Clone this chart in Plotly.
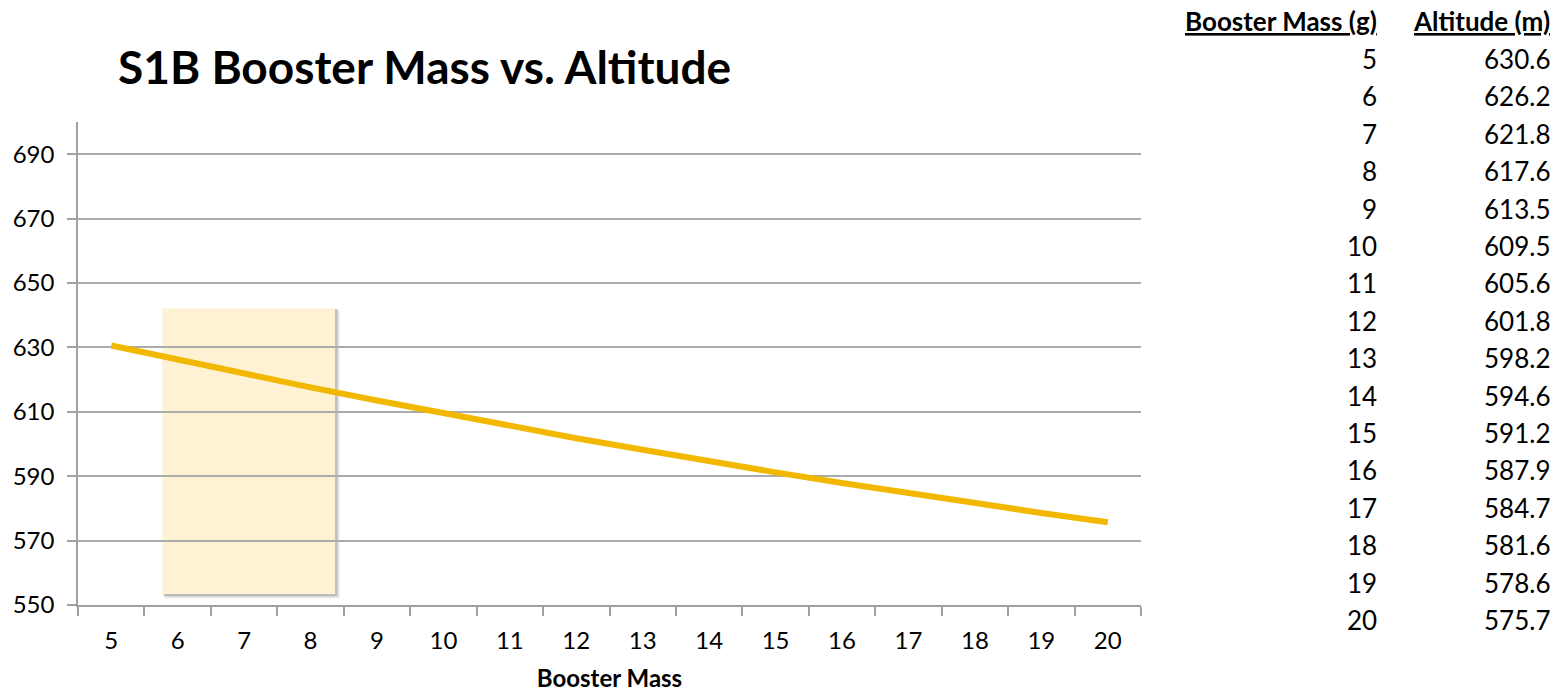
import plotly.graph_objects as go

# Booster mass (g) and predicted altitude (m)
booster_mass = [5, 6, 7, 8, 9, 10, 11, 12, 13, 14, 15, 16, 17, 18, 19, 20]
altitude = [630.6, 626.2, 621.8, 617.6, 613.5, 609.5, 605.6, 601.8,
            598.2, 594.6, 591.2, 587.9, 584.7, 581.6, 578.6, 575.7]
y_ticks = [550, 570, 590, 610, 630, 650, 670, 690]

W, H = 1564, 692
L, R, T, B = 78, 1141, 122, 605
FONT = "Lato"

fig = go.Figure()
fig.add_trace(go.Scatter(
    x=[str(m) for m in booster_mass], y=altitude, mode="lines",
    line=dict(color="#F2B800", width=6), hoverinfo="skip", showlegend=False,
))

# highlighted band with a soft drop shadow
band_x0, band_x1, band_y0, band_y1 = 0.77, 3.37, 553.4, 642.1
for dx, dy, col in [(0.07, -1.4, "rgba(0,0,0,0.06)"), (0.05, -1.0, "rgba(0,0,0,0.10)"),
                    (0.03, -0.6, "rgba(0,0,0,0.12)")]:
    fig.add_shape(type="rect", xref="x", yref="y", layer="below",
                  x0=band_x0 + dx * 0.5, x1=band_x1 + dx, y0=band_y0 + dy, y1=band_y1 + dy * 0.3,
                  fillcolor=col, line_width=0)
fig.add_shape(type="rect", xref="x", yref="y", layer="below",
              x0=band_x0, x1=band_x1, y0=band_y0, y1=band_y1,
              fillcolor="#FEF1D4", line_width=0)

def px_x(p):
    return (p - L) / (R - L)

def px_y(p):
    return (B - p) / (B - T)

# data table to the right of the chart
ann = []
ann.append(dict(text="<b><u>Booster Mass (g)</u></b>", x=px_x(1379), y=px_y(21),
                xanchor="right", yanchor="middle"))
ann.append(dict(text="<b><u>Altitude (m)</u></b>", x=px_x(1552), y=px_y(21),
                xanchor="right", yanchor="middle"))
row0, row_step = 59, (620 - 59) / 15
for i, (m, a) in enumerate(zip(booster_mass, altitude)):
    yy = px_y(row0 + i * row_step)
    ann.append(dict(text=str(m), x=px_x(1379), y=yy, xanchor="right", yanchor="middle"))
    ann.append(dict(text=f"{a:.1f}", x=px_x(1552), y=yy, xanchor="right", yanchor="middle"))
for a in ann:
    a.update(xref="paper", yref="paper", showarrow=False,
             font=dict(family=FONT, size=26, color="#000000"))

fig.update_layout(
    width=W, height=H,
    margin=dict(l=L, r=W - R, t=T, b=H - B, pad=0, autoexpand=False),
    paper_bgcolor="white", plot_bgcolor="white",
    title=dict(text="<b>S1B Booster Mass vs. Altitude</b>", xref="container", yref="container",
               x=118 / W, xanchor="left", y=1 - 68 / H, yanchor="middle",
               font=dict(family=FONT, size=46, color="#000000")),
    font=dict(family=FONT, color="#000000"),
    annotations=ann,
    xaxis=dict(
        type="category", showgrid=False, showline=True, linecolor="#A0A0A0", linewidth=1.5,
        ticks="outside", tickson="boundaries", ticklen=9, tickcolor="#A0A0A0", tickwidth=1.5,
        tickfont=dict(family=FONT, size=24), ticklabelstandoff=13, automargin=False,
        title=dict(text="<b>Booster Mass</b>", font=dict(family=FONT, size=24), standoff=20),
        range=[-0.5, 15.5], fixedrange=True,
    ),
    yaxis=dict(
        range=[550, 700], tickvals=y_ticks, showgrid=True, gridcolor="#ABABAB", gridwidth=1.5,
        showline=True, linecolor="#A0A0A0", linewidth=1.5, zeroline=False,
        ticks="outside", ticklen=9, tickcolor="#A0A0A0", tickwidth=1.5, automargin=False,
        tickfont=dict(family=FONT, size=24), ticklabelstandoff=8, fixedrange=True,
    ),
)

fig.write_html("out.html")
